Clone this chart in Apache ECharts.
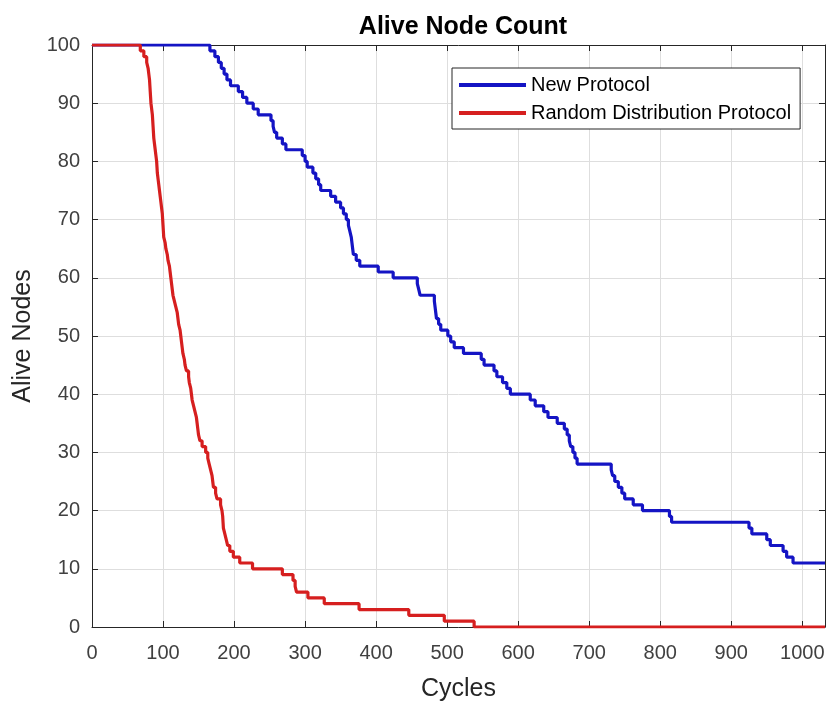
<!DOCTYPE html>
<html>
<head>
<meta charset="utf-8">
<script src="https://cdn.jsdelivr.net/npm/echarts@6/dist/echarts.min.js"></script>
<style>
  html, body { margin: 0; padding: 0; background: #fff; }
  #chart { width: 827px; height: 702px; }
</style>
</head>
<body>
<div id="chart"></div>
<script>
// [cycle, alive nodes] -- each point is where the count drops to the new value
const newProtocol = [
  [0, 100], [166, 99], [173, 98], [178, 97], [182, 96], [186, 95], [190, 94], [195, 93],
  [206, 92], [212, 91], [218, 90], [227, 89], [234, 88], [252, 87], [255, 86], [257, 85],
  [260, 84], [268, 83], [273, 82], [296, 81], [300, 80], [303, 79], [311, 78], [315, 77],
  [319, 76], [322, 75], [336, 74], [343, 73], [350, 72], [354, 71], [358, 70], [361, 69],
  [363, 68], [365, 67], [366, 66], [367, 65], [368, 64], [372, 63], [377, 62], [403, 61],
  [424, 60], [458, 59], [460, 58], [462, 57], [482, 56], [483, 55], [484, 54], [485, 53],
  [488, 52], [491, 51], [501, 50], [505, 49], [510, 48], [523, 47], [548, 46], [552, 45],
  [566, 44], [570, 43], [578, 42], [584, 41], [589, 40], [617, 39], [624, 38], [636, 37],
  [642, 36], [655, 35], [665, 34], [669, 33], [672, 32], [674, 31], [677, 30], [680, 29],
  [683, 28], [731, 27], [733, 26], [736, 25], [741, 24], [746, 23], [750, 22], [762, 21],
  [775, 20], [813, 19], [816, 18], [925, 17], [929, 16], [950, 15], [955, 14], [973, 13],
  [978, 12], [987, 11], [1032, 11]
];

const randomProtocol = [
  [0, 100], [68, 99], [73, 98], [77, 97], [79, 96], [80, 95], [81, 94], [81.5, 93], [82, 92],
  [82.5, 91], [83, 90], [84, 89], [85, 88], [85.5, 87], [86, 86], [86.5, 85], [87, 84],
  [88, 83], [89, 82], [90, 81], [91, 80], [91.5, 79], [92, 78], [93, 77], [94, 76], [95, 75],
  [96, 74], [97, 73], [98, 72], [99, 71], [99.5, 70], [100, 69], [100.5, 68], [101, 67],
  [103, 66], [104, 65], [106, 64], [107, 63], [109, 62], [110, 61], [111, 60], [112, 59],
  [113, 58], [114, 57], [116, 56], [118, 55], [120, 54], [121, 53], [122, 52], [124, 51],
  [125, 50], [126, 49], [127, 48], [128, 47], [130, 46], [131, 45], [133, 44], [136, 43],
  [137, 42], [139, 41], [140, 40], [141, 39], [143, 38], [145, 37], [147, 36], [148, 35],
  [149, 34], [150, 33], [152, 32], [155, 31], [160, 30], [163, 29], [165, 28], [167, 27],
  [169, 26], [170, 25], [171, 24], [174, 23], [176, 22], [181, 21], [183, 20], [184, 19],
  [184.5, 18], [185, 17], [187, 16], [189, 15], [191, 14], [194, 13], [199, 12], [208, 11],
  [226, 10], [268, 9], [283, 8], [286, 7], [288, 6], [304, 5], [327, 4], [376, 3],
  [446, 2], [496, 1], [538, 0], [1032, 0]
];

const seriesNames = ['New Protocol', 'Random Distribution Protocol'];
const seriesColors = ['#1414c4', '#d61f1f'];

const chart = echarts.init(document.getElementById('chart'));

const font = 'Liberation Sans, Arial, sans-serif';
const boxColor = '#262626';

// box axes on top/right: ticks only, no labels
const boxAxis = {
  type: 'value',
  min: 0,
  axisLine: { show: true, onZero: false, lineStyle: { color: boxColor, width: 1 } },
  axisTick: { show: true, inside: true, length: 6, lineStyle: { color: boxColor } },
  axisLabel: { show: false },
  splitLine: { show: false }
};

const options = {
  animation: false,
  backgroundColor: '#fff',
  title: {
    text: 'Alive Node Count',
    left: 458,
    top: 10,
    textAlign: 'center',
    textStyle: { fontFamily: font, fontSize: 25, fontWeight: 'bold', color: '#000' }
  },
  legend: {
    data: seriesNames,
    orient: 'vertical',
    left: 452,
    top: 68,
    icon: 'rect',
    itemWidth: 67,
    itemHeight: 4,
    itemGap: 8,
    padding: [7, 9, 6, 7],
    borderColor: boxColor,
    borderWidth: 1,
    backgroundColor: '#fff',
    textStyle: { fontFamily: font, fontSize: 20, color: '#000' }
  },
  grid: { left: 92, top: 45, right: 2, bottom: 75, containLabel: false, outerBoundsMode: 'none' },
  xAxis: [
    {
      type: 'value',
      min: 0,
      max: 1032,
      interval: 100,
      name: 'Cycles',
      nameLocation: 'middle',
      nameGap: 50,
      nameTextStyle: { fontFamily: font, fontSize: 25, color: boxColor },
      axisLine: { show: true, onZero: false, lineStyle: { color: boxColor, width: 1 } },
      axisTick: { show: true, inside: true, length: 6, lineStyle: { color: boxColor } },
      axisLabel: {
        fontFamily: font, fontSize: 20, color: '#404040', margin: 16, showMaxLabel: false,
        formatter: v => String(v)
      },
      splitLine: { show: true, lineStyle: { color: '#dedede', width: 1 } }
    },
    Object.assign({}, boxAxis, { position: 'top', max: 1032, interval: 100 })
  ],
  yAxis: [
    {
      type: 'value',
      min: 0,
      max: 100,
      interval: 10,
      name: 'Alive Nodes',
      nameLocation: 'middle',
      nameGap: 56,
      nameTextStyle: { fontFamily: font, fontSize: 25, color: boxColor },
      axisLine: { show: true, onZero: false, lineStyle: { color: boxColor, width: 1 } },
      axisTick: { show: true, inside: true, length: 6, lineStyle: { color: boxColor } },
      axisLabel: { fontFamily: font, fontSize: 20, color: '#404040', margin: 12 },
      splitLine: { show: true, lineStyle: { color: '#dedede', width: 1 } }
    },
    Object.assign({}, boxAxis, { position: 'right', max: 100, interval: 10 })
  ],
  series: [
    {
      name: seriesNames[0],
      type: 'line',
      step: 'end',
      data: newProtocol,
      showSymbol: false,
      color: seriesColors[0],
      lineStyle: { width: 3.2, color: seriesColors[0] }
    },
    {
      name: seriesNames[1],
      type: 'line',
      step: 'end',
      data: randomProtocol,
      showSymbol: false,
      color: seriesColors[1],
      lineStyle: { width: 3.2, color: seriesColors[1] }
    }
  ]
};

chart.setOption(options);
</script>
</body>
</html>
